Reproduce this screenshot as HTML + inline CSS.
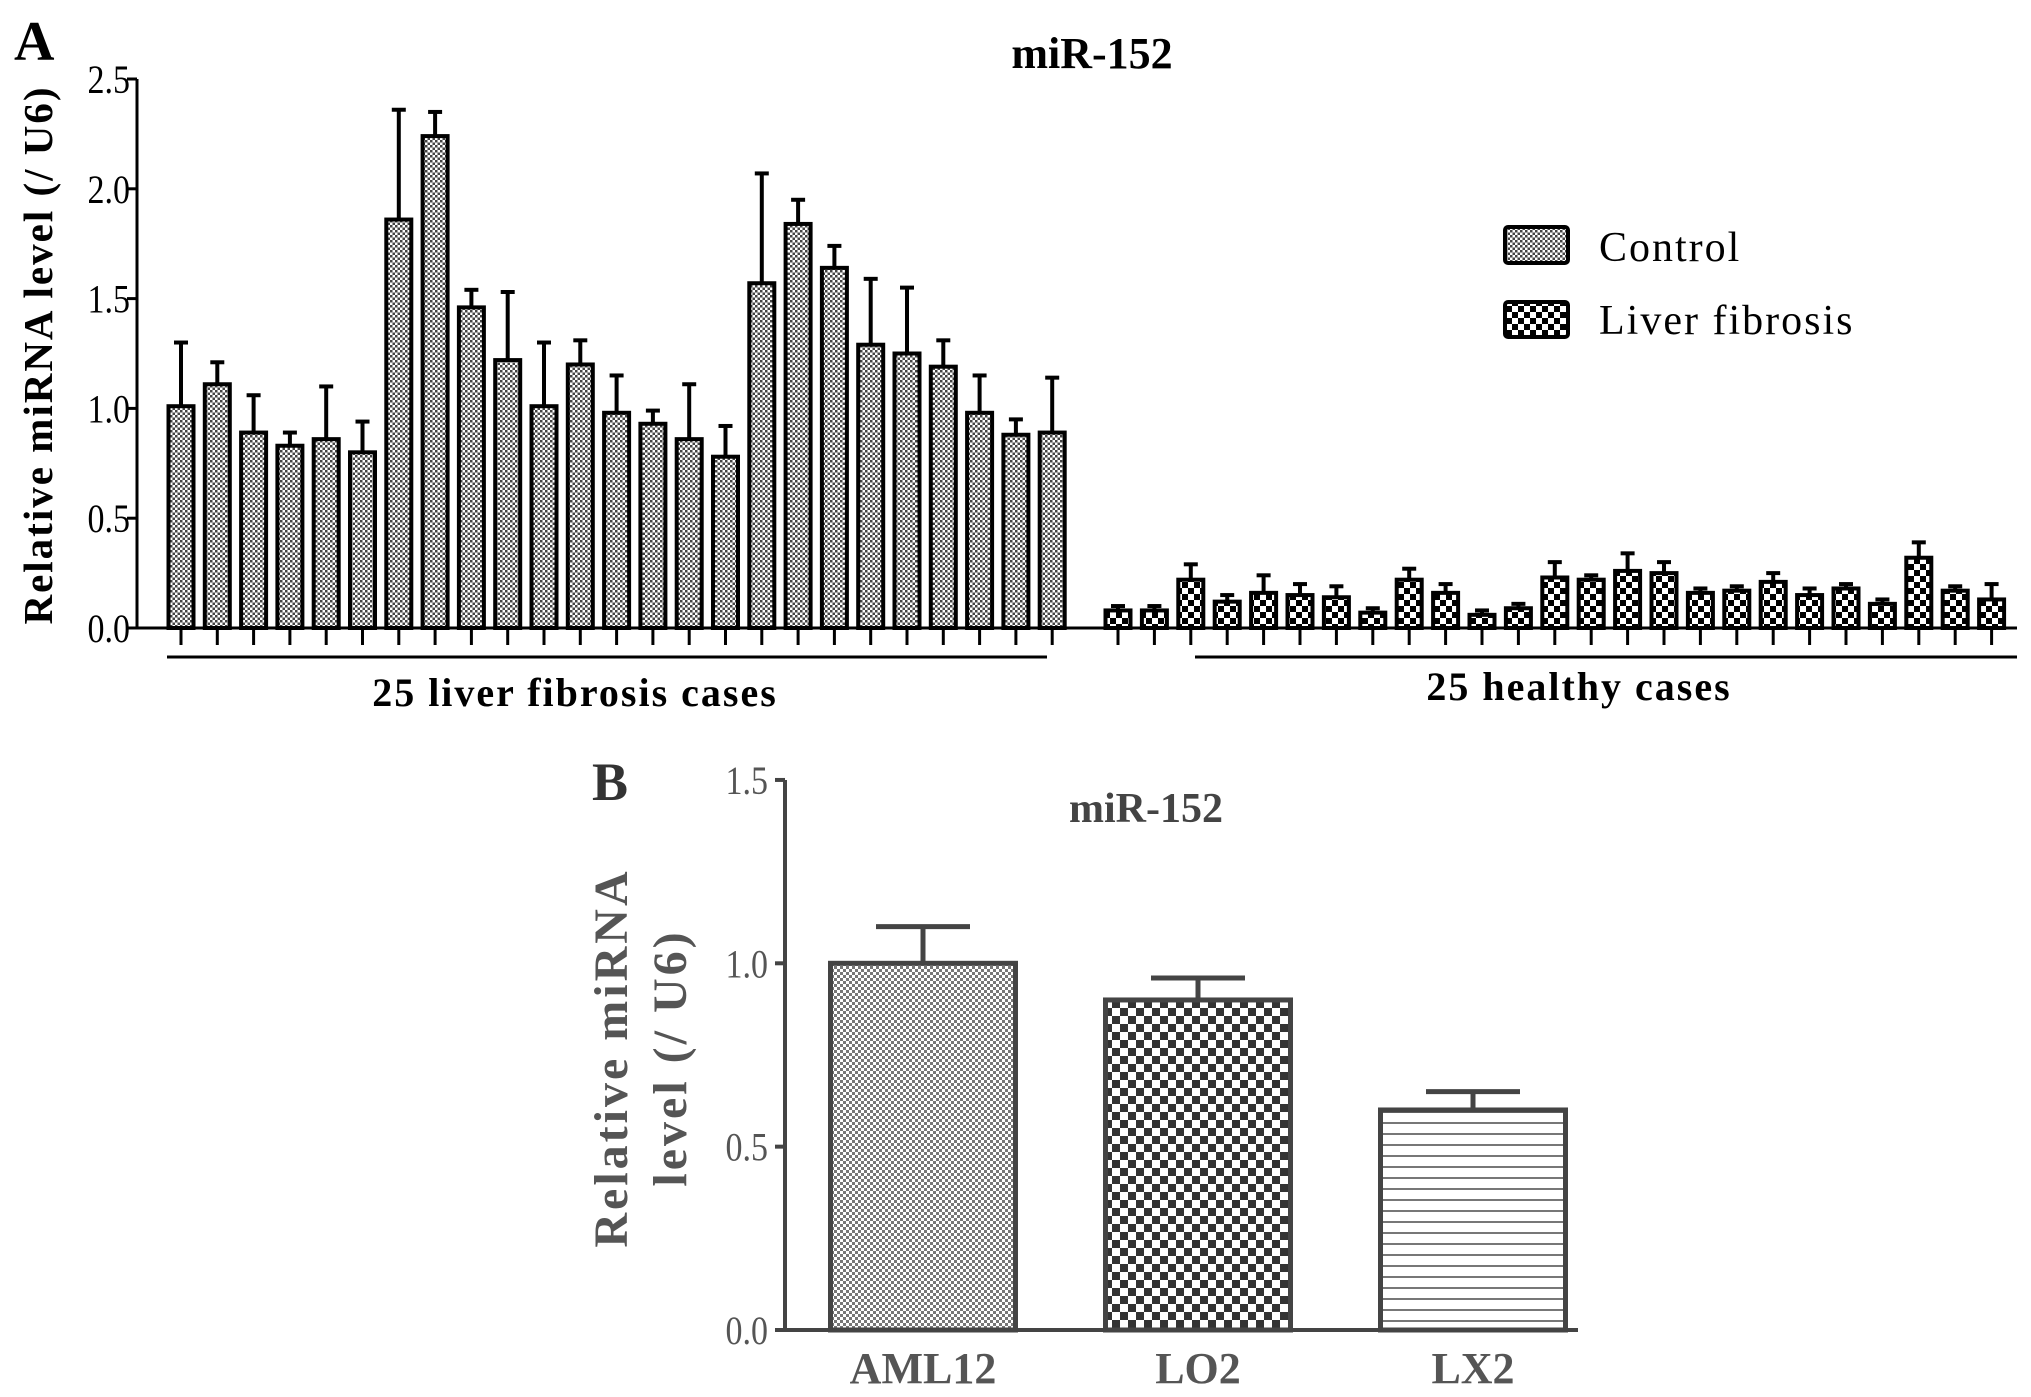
<!DOCTYPE html>
<html><head><meta charset="utf-8">
<style>
html,body{margin:0;padding:0;background:#fff;}
svg{display:block;font-family:"Liberation Serif",serif;}
</style></head>
<body>
<svg id="fig" width="2031" height="1397" viewBox="0 0 2031 1397" xmlns="http://www.w3.org/2000/svg">
<defs>
<pattern id="pCtrl" width="5" height="5" patternUnits="userSpaceOnUse">
<rect width="5" height="5" fill="#fff"/><rect width="2.5" height="2.5" fill="#444"/><rect x="2.5" y="2.5" width="2.5" height="2.5" fill="#444"/>
</pattern>
<pattern id="pFib" width="12" height="12" patternUnits="userSpaceOnUse">
<rect width="12" height="12" fill="#fff"/><rect width="6" height="6" fill="#000"/><rect x="6" y="6" width="6" height="6" fill="#000"/>
</pattern>
<pattern id="pAml" width="6" height="6" patternUnits="userSpaceOnUse">
<rect width="6" height="6" fill="#fff"/><rect width="3" height="3" fill="#777"/><rect x="3" y="3" width="3" height="3" fill="#777"/>
</pattern>
<pattern id="pLo2" width="16" height="16" patternUnits="userSpaceOnUse">
<rect width="16" height="16" fill="#fff"/><rect width="8" height="8" fill="#333"/><rect x="8" y="8" width="8" height="8" fill="#333"/>
</pattern>
<pattern id="pLx2" width="10" height="11" patternUnits="userSpaceOnUse">
<rect width="10" height="11" fill="#fff"/><rect y="0" width="10" height="2" fill="#777"/>
</pattern>
</defs>

<text x="14" y="60" font-size="56" font-weight="bold">A</text>
<text x="1092" y="68" font-size="44" font-weight="bold" text-anchor="middle">miR-152</text>
<text transform="translate(52,355) rotate(-90)" font-size="41" font-weight="bold" text-anchor="middle" letter-spacing="2">Relative miRNA level (/ U6)</text>
<g id="gA"></g>

<rect x="1505" y="227" width="63" height="36" fill="url(#pCtrl)" stroke="#000" stroke-width="4" rx="3"/>
<text x="1599" y="261" font-size="42" letter-spacing="2">Control</text>
<rect x="1505" y="302" width="63" height="35" fill="url(#pFib)" stroke="#000" stroke-width="4" rx="3"/>
<text x="1599" y="334" font-size="42" letter-spacing="2">Liver fibrosis</text>

<text x="592" y="800" font-size="54" font-weight="bold" fill="#333">B</text>
<text x="1146" y="822" font-size="42" font-weight="bold" fill="#444" text-anchor="middle">miR-152</text>
<text transform="translate(627,1058) rotate(-90)" font-size="48" font-weight="bold" fill="#555" text-anchor="middle" letter-spacing="3">Relative miRNA</text>
<text transform="translate(686,1058) rotate(-90)" font-size="48" font-weight="bold" fill="#555" text-anchor="middle" letter-spacing="3">level (/ U6)</text>
<g id="gB"></g>
</svg>
<script>
const ticksA = [0, 0.5, 1.0, 1.5, 2.0, 2.5];
const fibrosisValues = [1.01,1.11,0.89,0.83,0.86,0.80,1.86,2.24,1.46,1.22,1.01,1.20,0.98,0.93,0.86,0.78,1.57,1.84,1.64,1.29,1.25,1.19,0.98,0.88,0.89];
const fibrosisErr = [1.30,1.21,1.06,0.89,1.10,0.94,2.36,2.35,1.54,1.53,1.30,1.31,1.15,0.99,1.11,0.92,2.07,1.95,1.74,1.59,1.55,1.31,1.15,0.95,1.14];
const healthyValues = [0.08,0.08,0.22,0.12,0.16,0.15,0.14,0.07,0.22,0.16,0.06,0.09,0.23,0.22,0.26,0.25,0.16,0.17,0.21,0.15,0.18,0.11,0.32,0.17,0.13];
const healthyErr = [0.10,0.10,0.29,0.15,0.24,0.20,0.19,0.09,0.27,0.20,0.08,0.11,0.30,0.24,0.34,0.30,0.18,0.19,0.25,0.18,0.20,0.13,0.39,0.19,0.20];
const ticksB = [0, 0.5, 1.0, 1.5];
const cellLines = ["AML12","LO2","LX2"];
const cellValues = [1.0, 0.90, 0.60];
const cellErr = [1.10, 0.96, 0.65];

const NS = "http://www.w3.org/2000/svg";
function mk(tag, attrs, parent){const e=document.createElementNS(NS,tag);for(const k in attrs)e.setAttribute(k,attrs[k]);parent.appendChild(e);return e;}

// Panel A
const gA = document.getElementById('gA');
const yA = v => 628 - v*219.6;
const xF = i => 181 + i*36.3;
const xH = i => 1118 + i*36.4;
const bwA = 25;
let el;
el = mk('line',{x1:137,y1:yA(2.5),x2:137,y2:yA(0),stroke:'#000','stroke-width':3},gA);


el = mk('line',{x1:137,y1:yA(0),x2:2017,y2:yA(0),stroke:'#000','stroke-width':3},gA);


ticksA.forEach(t=>{
  mk('line',{x1:127,y1:yA(t),x2:137,y2:yA(t),stroke:'#000','stroke-width':3},gA);
  el = mk('text',{x:0,y:0,'font-size':40,'text-anchor':'end',transform:'translate(130,'+(yA(t)+14)+') scale(0.85,1)'},gA);
  el.textContent = t.toFixed(1);
  
  
});
function barA(x,v,e,fill,name){
  const top=yA(v), et=yA(e);
  mk('line',{x1:x,y1:et,x2:x,y2:top,stroke:'#000','stroke-width':4},gA);
  mk('line',{x1:x-7,y1:et,x2:x+7,y2:et,stroke:'#000','stroke-width':4},gA);
  el = mk('rect',{x:x-bwA/2,y:top,width:bwA,height:yA(0)-top,fill:fill,stroke:'#000','stroke-width':4},gA);
  
  
  mk('line',{x1:x,y1:yA(0),x2:x,y2:yA(0)+17,stroke:'#000','stroke-width':3},gA);
}
fibrosisValues.forEach((v,i)=>barA(xF(i),v,fibrosisErr[i],'url(#pCtrl)','bar-fibrosis-case'));
healthyValues.forEach((v,i)=>barA(xH(i),v,healthyErr[i],'url(#pFib)','bar-healthy-case'));
el = mk('line',{x1:167,y1:657,x2:1047,y2:657,stroke:'#000','stroke-width':3},gA);


el = mk('line',{x1:1195,y1:657,x2:2017,y2:657,stroke:'#000','stroke-width':3},gA);


el = mk('text',{x:575,y:706,'font-size':40,'font-weight':'bold','text-anchor':'middle','letter-spacing':2},gA);
el.textContent='25 liver fibrosis cases';


el = mk('text',{x:1579,y:700,'font-size':40,'font-weight':'bold','text-anchor':'middle','letter-spacing':2},gA);
el.textContent='25 healthy cases';



// Panel B
const gB = document.getElementById('gB');
const yB = v => 1330 - v*366.7;
const xB = i => 923 + i*275;
const bwB = 185;
const fillsB = ['url(#pAml)','url(#pLo2)','url(#pLx2)'];
el = mk('line',{x1:785,y1:yB(1.5),x2:785,y2:yB(0),stroke:'#444','stroke-width':4},gB);


el = mk('line',{x1:785,y1:yB(0),x2:1578,y2:yB(0),stroke:'#444','stroke-width':4},gB);


ticksB.forEach(t=>{
  mk('line',{x1:775,y1:yB(t),x2:785,y2:yB(t),stroke:'#444','stroke-width':4},gB);
  el = mk('text',{x:0,y:0,'font-size':40,'text-anchor':'end',fill:'#555',transform:'translate(768,'+(yB(t)+14)+') scale(0.85,1)'},gB);
  el.textContent=t.toFixed(1);
  
  
});
cellLines.forEach((c,i)=>{
  const x=xB(i), top=yB(cellValues[i]), et=yB(cellErr[i]);
  mk('line',{x1:x,y1:et,x2:x,y2:top,stroke:'#444','stroke-width':5},gB);
  mk('line',{x1:x-47,y1:et,x2:x+47,y2:et,stroke:'#444','stroke-width':5},gB);
  el = mk('rect',{x:x-bwB/2,y:top,width:bwB,height:yB(0)-top,fill:fillsB[i],stroke:'#444','stroke-width':5},gB);
  
  
  el = mk('text',{x:x,y:1383,'font-size':44,'font-weight':'bold','text-anchor':'middle',fill:'#555'},gB);
  el.textContent=c;
  
  
});
</script>
</body></html>
